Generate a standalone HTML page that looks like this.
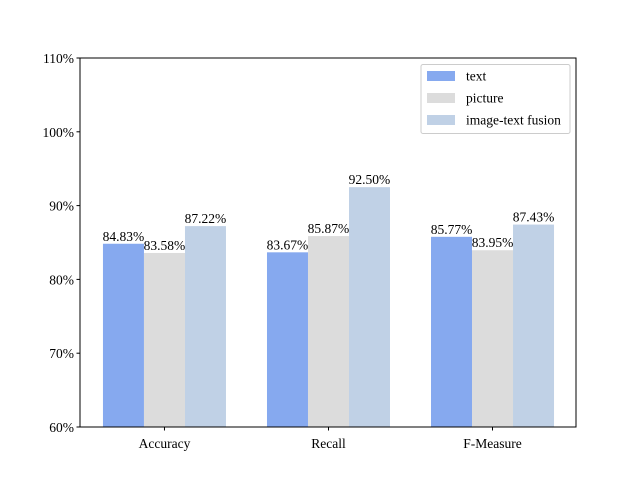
<!DOCTYPE html>
<html><head><meta charset="utf-8"><style>
body{margin:0;background:#fff}
svg{font-family:"Liberation Serif",serif;font-size:13.5px}
</style></head><body>
<svg width="640" height="480" id="chart">
<rect x="0" y="0" width="640" height="480" fill="#fff"/>
<g id="bars"></g>
<g id="axes"></g>
</svg>
<script>
const categories=["Accuracy","Recall","F-Measure"];
const seriesNames=["text","picture","image-text fusion"];
const textVals=[84.83,83.67,85.77];
const pictureVals=[83.58,85.87,83.95];
const fusionVals=[87.22,92.50,87.43];
const yTicks=[60,70,80,90,100,110];
const colors=["#86a9ef","#dcdcdc","#c0d1e6"];
const NS="http://www.w3.org/2000/svg";
const L=80,R=576,T=58,B=427;
const xMin=-0.515,xMax=2.509,yMin=60,yMax=110;
const X=v=>L+(v-xMin)/(xMax-xMin)*(R-L);
const Y=v=>B-(v-yMin)/(yMax-yMin)*(B-T);
function mk(tag,attrs,parent,text){const e=document.createElementNS(NS,tag);for(const k in attrs)e.setAttribute(k,attrs[k]);if(text!==undefined)e.textContent=text;parent.appendChild(e);return e;}
const bars=document.getElementById('bars'),axes=document.getElementById('axes');
const series=[textVals,pictureVals,fusionVals];
const w=0.25;
series.forEach((vals,s)=>{
 vals.forEach((v,i)=>{
  const x0=X(i+(s-1)*w-w/2),x1=X(i+(s-1)*w+w/2);
  const r=mk('rect',{x:x0,y:Y(v),width:x1-x0,height:B-Y(v),fill:colors[s]},bars);
  
  
  const t=mk('text',{x:(x0+x1)/2,y:Y(v)-3,'text-anchor':'middle'},bars,v.toFixed(2)+'%');
  
  
 });
});
const frame=mk('rect',{x:L,y:T,width:R-L,height:B-T,fill:'none',stroke:'#000','stroke-width':1},axes);


yTicks.forEach(v=>{
 mk('line',{x1:L-3.5,x2:L,y1:Y(v),y2:Y(v),stroke:'#000'},axes);
 const t=mk('text',{x:L-6,y:Y(v)+5,'text-anchor':'end'},axes,v+'%');
 
 
});
categories.forEach((c,i)=>{
 mk('line',{x1:X(i),x2:X(i),y1:B,y2:B+3.5,stroke:'#000'},axes);
 const t=mk('text',{x:X(i),y:B+21,'text-anchor':'middle'},axes,c);
 
 
});
const lg=mk('g',{},axes);


mk('rect',{x:421,y:64.5,width:149,height:69,rx:2,fill:'#fff',stroke:'#ccc'},lg);
seriesNames.forEach((n,s)=>{
 const y=76+s*22;
 mk('rect',{x:427,y:y-5,width:28,height:10,fill:colors[s]},lg);
 const t=mk('text',{x:466,y:y+4.5},lg,n);
 
 
});
</script>
</body></html>
